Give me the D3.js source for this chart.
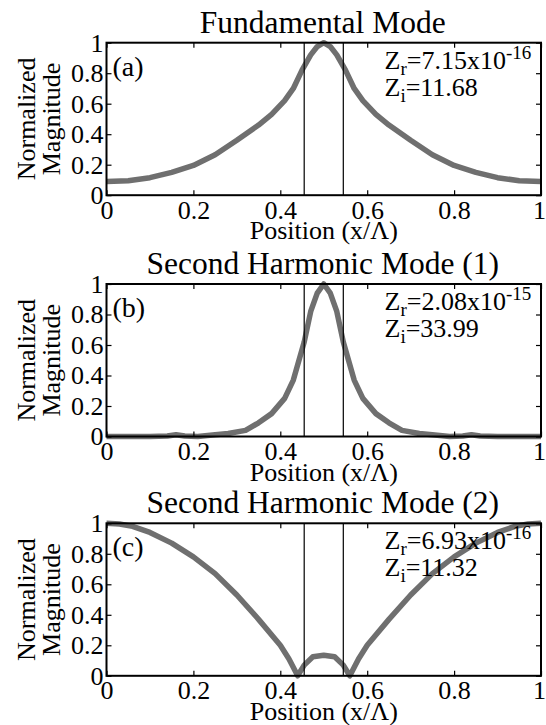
<!DOCTYPE html>
<html>
<head>
<meta charset="utf-8">
<script src="https://cdn.jsdelivr.net/npm/d3@7"></script>
<style>
  body { margin: 0; background: #fff; }
</style>
</head>
<body>
<svg id="fig" width="546" height="725"></svg>
<script>
// data
var titles = ["Fundamental Mode", "Second Harmonic Mode (1)", "Second Harmonic Mode (2)"];
var letters = ["(a)", "(b)", "(c)"];
var zr = ["7.15", "2.08", "6.93"];
var zrExp = ["-16", "-15", "-16"];
var zi = ["11.68", "33.99", "11.32"];
var xTicks = [0, 0.2, 0.4, 0.6, 0.8, 1];
var yTicks = [0, 0.2, 0.4, 0.6, 0.8, 1];
var boundaries = [0.455, 0.545];

// fundamental mode
var xA = [0, 0.05, 0.1, 0.15, 0.2, 0.25, 0.3, 0.35, 0.38, 0.41, 0.43, 0.45, 0.47, 0.485, 0.5,
          0.515, 0.53, 0.55, 0.57, 0.59, 0.62, 0.65, 0.7, 0.75, 0.8, 0.85, 0.9, 0.95, 1];
var yA = [0.09, 0.095, 0.115, 0.15, 0.195, 0.265, 0.36, 0.46, 0.53, 0.62, 0.70, 0.82, 0.92, 0.975, 1.0,
          0.975, 0.92, 0.82, 0.70, 0.62, 0.53, 0.46, 0.36, 0.265, 0.195, 0.15, 0.115, 0.095, 0.09];
// second harmonic (1)
var xB = [0, 0.1, 0.14, 0.16, 0.18, 0.21, 0.25, 0.28, 0.32, 0.35, 0.38, 0.41, 0.43, 0.455, 0.47, 0.485, 0.5,
          0.515, 0.53, 0.545, 0.57, 0.59, 0.62, 0.65, 0.68, 0.72, 0.75, 0.79, 0.82, 0.84, 0.86, 0.9, 1];
var yB = [0, 0, 0.003, 0.012, 0.003, 0, 0.012, 0.02, 0.04, 0.09, 0.15, 0.25, 0.37, 0.62, 0.82, 0.94, 1.0,
          0.94, 0.82, 0.62, 0.37, 0.25, 0.15, 0.09, 0.04, 0.02, 0.012, 0, 0.003, 0.012, 0.003, 0, 0];
// second harmonic (2)
var xC = [0, 0.03, 0.06, 0.1, 0.15, 0.2, 0.25, 0.3, 0.35, 0.4, 0.42, 0.44, 0.455, 0.475, 0.5,
          0.525, 0.545, 0.56, 0.58, 0.6, 0.65, 0.7, 0.75, 0.8, 0.85, 0.9, 0.94, 0.97, 1];
var yC = [1, 0.995, 0.98, 0.94, 0.87, 0.78, 0.67, 0.53, 0.37, 0.2, 0.11, 0, 0.07, 0.125, 0.135,
          0.125, 0.07, 0, 0.11, 0.2, 0.37, 0.53, 0.67, 0.78, 0.87, 0.94, 0.98, 0.995, 1];

var xs = [xA, xB, xC];
var ys = [yA, yB, yC];

var FONT = "'Liberation Serif', 'Times New Roman', Times, 'DejaVu Serif', serif";
var svg = d3.select("#fig").attr("font-family", FONT);
var left = 106.5, w = 434.5, h = 152.5;
var tops = [42.7, 284, 523.3];
var fs = 26;

var x = d3.scaleLinear().domain([0, 1]).range([0, w]);
var y = d3.scaleLinear().domain([0, 1]).range([h, 0]);
var fmt = d3.format("~g");

// 한 패널 그리기
function make_panel(i){
    var g = svg.append("g").attr("transform", "translate(" + left + "," + tops[i] + ")");

    var pts = xs[i].map(function(d, k){ return [d, ys[i][k]]; });

    g.append("path")
     .datum(pts)
     .attr("fill", "none")
     .attr("stroke", "#6f6f6f")
     .attr("stroke-width", 5.5)
     .attr("stroke-linejoin", "round")
     .attr("d", d3.line().x(function(d){ return x(d[0]); }).y(function(d){ return y(d[1]); }));

    g.selectAll("line.bd")
     .data(boundaries)
     .enter()
     .append("line")
     .attr("class", "bd")
     .attr("x1", function(d){ return x(d); })
     .attr("x2", function(d){ return x(d); })
     .attr("y1", 0).attr("y2", h)
     .attr("stroke", "#000").attr("stroke-width", 1.2);

    var axes = [
        d3.axisBottom(x).tickValues(xTicks).tickFormat(fmt).tickSizeInner(-5).tickSizeOuter(0).tickPadding(5),
        d3.axisLeft(y).tickValues(yTicks).tickFormat(fmt).tickSizeInner(-5).tickSizeOuter(0).tickPadding(3),
        d3.axisTop(x).tickValues(xTicks).tickSizeInner(-5).tickSizeOuter(0).tickFormat(""),
        d3.axisRight(y).tickValues(yTicks).tickSizeInner(-5).tickSizeOuter(0).tickFormat("")
    ];
    var shifts = ["translate(0," + h + ")", "", "", "translate(" + w + ",0)"];
    axes.forEach(function(ax, k){
        var a = g.append("g").attr("transform", shifts[k]).call(ax);
        a.attr("font-family", FONT).attr("font-size", fs);
        a.select(".domain").remove();
        a.selectAll("line").attr("stroke", "#000").attr("stroke-width", 1.2);
        a.selectAll("text").attr("fill", "#000");
    });
    // 마지막 눈금 글자는 가장자리에 붙여서
    g.select("g").selectAll("text").filter(function(d){ return d === 1; }).attr("dx", -2);

    g.append("rect")
     .attr("width", w).attr("height", h)
     .attr("fill", "none").attr("stroke", "#000").attr("stroke-width", 2);

    g.append("text").attr("x", w / 2 - 1).attr("y", -10)
     .attr("text-anchor", "middle").attr("font-size", 31.5).text(titles[i]);

    g.append("text").attr("x", w / 2).attr("y", h + 44)
     .attr("text-anchor", "middle").attr("font-size", fs).text("Position (x/\u039B)");

    ["Normalized", "Magnitude"].forEach(function(s, k){
        g.append("text")
         .attr("transform", "translate(" + (k === 0 ? -71.5 : -46.5) + "," + (h / 2) + ") rotate(-90)")
         .attr("text-anchor", "middle").attr("font-size", fs).text(s);
    });

    g.append("text").attr("x", 6).attr("y", 33).attr("font-size", fs + 2).text(letters[i]);

    var t1 = g.append("text").attr("x", 278).attr("y", 26).attr("font-size", fs);
    t1.append("tspan").text("Z");
    t1.append("tspan").attr("dy", 6).attr("font-size", 19).text("r");
    t1.append("tspan").attr("dy", -6).text("=" + zr[i] + "x10");
    t1.append("tspan").attr("dy", -10).attr("font-size", 19).text(zrExp[i]);

    var t2 = g.append("text").attr("x", 278).attr("y", 53).attr("font-size", fs);
    t2.append("tspan").text("Z");
    t2.append("tspan").attr("dy", 6).attr("font-size", 19).text("i");
    t2.append("tspan").attr("dy", -6).text("=" + zi[i]);
}

for (var i = 0; i < 3; i++) make_panel(i);
</script>
</body>
</html>
